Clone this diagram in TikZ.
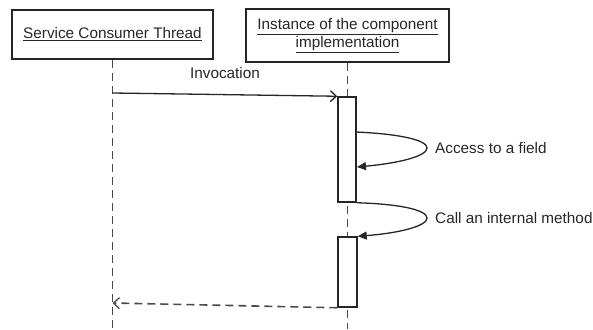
\documentclass[tikz,border=0pt]{standalone}
\usepackage{fontspec}
\setmainfont{Liberation Sans}
\usetikzlibrary{arrows.meta}
\definecolor{ink}{HTML}{262626}
\definecolor{dashgrey}{HTML}{4A4A4A}
\tikzset{
  objbox/.style={draw=ink, line width=1.7pt, inner sep=2pt, align=center, text=ink},
  actbox/.style={draw=ink, line width=1.5pt, fill=white, inner sep=0pt},
  lifeline/.style={draw=dashgrey, line width=1.6pt, dash pattern=on 8pt off 5pt},
  msg/.style={draw=ink, line width=1.3pt, -{Straight Barb[length=6pt,width=11pt]}},
  retmsg/.style={draw=dashgrey, line width=1.6pt, dash pattern=on 8pt off 5pt, -{Straight Barb[length=6pt,width=11pt,line width=1.3pt]}},
  selfmsg/.style={draw=ink, line width=1.3pt, -{Triangle[length=9pt,width=8pt]}},
  lbl/.style={text=ink, inner sep=0pt}
}
\begin{document}
\begin{tikzpicture}[x=1pt, y=-1pt, font=\fontsize{15.3}{18.5}\selectfont]
\useasboundingbox (0,0) rectangle (593,329);
% objects
\node[objbox, minimum width=201pt, minimum height=49pt] (sct) at (112.5,34.5) {\underline{Service Consumer Thread}};
\node[objbox, minimum width=203pt, minimum height=53pt] (inst) at (347.5,35.5) {\underline{Instance of the component}\\\underline{implementation}};
% lifelines
\coordinate (l1end) at (112.5,329);
\coordinate (l2end) at (347.5,329);
\draw[lifeline] (sct.south) -- (l1end);
\draw[lifeline] (inst.south) -- (l2end);
% activations
\node[actbox, minimum width=18pt, minimum height=105pt] (act1) at (347,149.5) {};
\node[actbox, minimum width=19pt, minimum height=70pt] (act2) at (347.5,272) {};
% invocation
\coordinate (invs) at (112.5,93);
\draw[msg] (invs) -- (act1.north west);
\node[lbl] (invlbl) at (225,73) {Invocation};
% self call 1
\coordinate (s1a) at (356,132);
\coordinate (s1t) at (427,148);
\coordinate (s1b) at (357,167);
\draw[selfmsg] (s1a) .. controls (400,134) and (427,140) .. (s1t) .. controls (427,156) and (400,163) .. (s1b);
\node[lbl, anchor=west] (acc) at (435,148) {Access to a field};
% self call 2
\coordinate (s2t) at (427,218);
\draw[selfmsg] (act1.south east) .. controls (400,204) and (427,210) .. (s2t) .. controls (427,226) and (400,233) .. (act2.north east);
\node[lbl, anchor=west] (call) at (435,218) {Call an internal method};
% return
\coordinate (rete) at (112.5,303);
\draw[retmsg] (act2.south west) -- (rete);
\end{tikzpicture}
\end{document}
